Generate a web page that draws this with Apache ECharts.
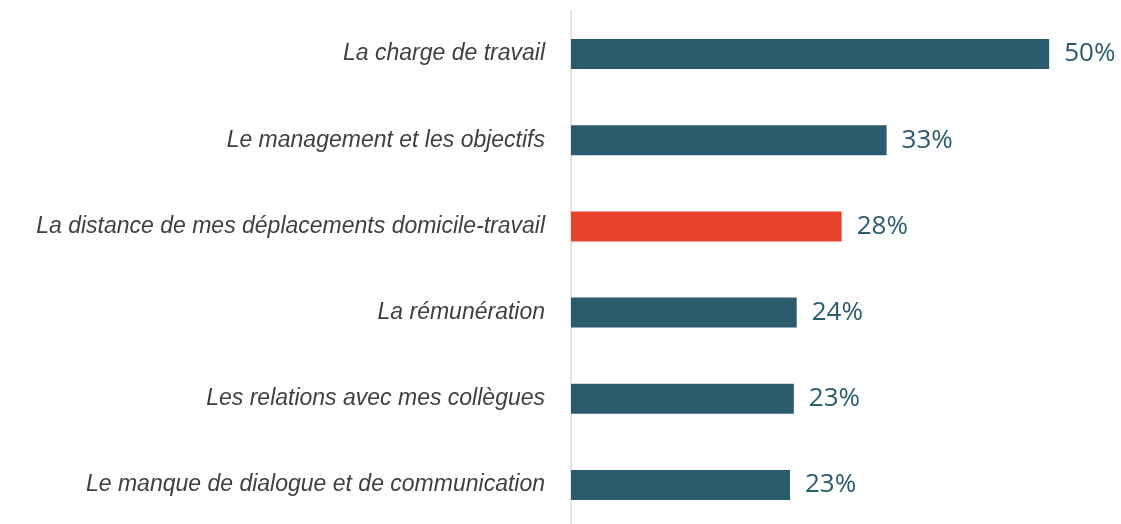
<!DOCTYPE html>
<html>
<head>
<meta charset="utf-8">
<script src="https://cdn.jsdelivr.net/npm/echarts@6/dist/echarts.min.js"></script>
<style>
  html, body { margin: 0; padding: 0; background: #fff; overflow: hidden; }
  #chart { width: 1121px; height: 530px; }
</style>
</head>
<body>
<div id="chart"></div>
<script>
// categories, top to bottom
const categories = [
  'La charge de travail',
  'Le management et les objectifs',
  'La distance de mes déplacements domicile-travail',
  'La rémunération',
  'Les relations avec mes collègues',
  'Le manque de dialogue et de communication',
];
// share of respondents (%)
const values = [50, 33, 28.3, 23.6, 23.3, 22.9];
const highlightIndex = 2;

// chart box is a little taller than the window so the last band runs off the bottom
const chart = echarts.init(document.getElementById('chart'));

chart.setOption({
  animation: false,
  grid: {
    left: 571,
    right: 24,
    top: 11,
    bottom: 2,
  },
  xAxis: {
    type: 'value',
    min: 0,
    max: 55,
    show: false,
  },
  yAxis: {
    type: 'category',
    inverse: true,
    data: categories,
    axisTick: { show: false },
    axisLine: { show: true, lineStyle: { color: '#e4e4e4', width: 2 } },
    axisLabel: {
      margin: 26,
      fontFamily: '"Liberation Sans", Arial, sans-serif',
      fontStyle: 'italic',
      fontSize: 23,
      color: '#404040',
    },
  },
  series: [
    {
      type: 'bar',
      barWidth: 30,
      data: values.map((v, i) => ({
        value: v,
        itemStyle: { color: i === highlightIndex ? '#e8442d' : '#2a5c6e' },
      })),
      label: {
        show: true,
        position: 'right',
        distance: 15,
        fontFamily: '"Open Sans", sans-serif',
        fontSize: 26,
        color: '#2a5c6e',
        formatter: (p) => `${Math.round(p.value)}%`,
      },
    },
  ],
});
</script>
</body>
</html>
